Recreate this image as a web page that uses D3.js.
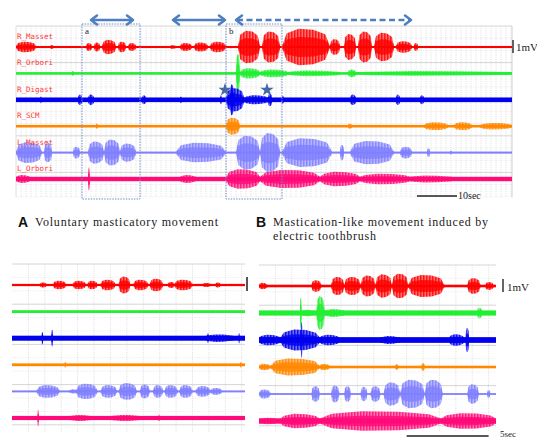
<!DOCTYPE html>
<html>
<head>
<meta charset="utf-8">
<script src="https://cdn.jsdelivr.net/npm/d3@7"></script>
<style>
  body { margin: 0; background: #fff; }
  svg { display: block; }
</style>
</head>
<body>
<svg id="chart" width="537" height="438"></svg>
<script>
// channels, top to bottom
const channels = ["R_Masset", "R_Orbori", "R_Digast", "R_SCM", "L_Masset", "L_Orbori"];
const colors = ["#ff0000", "#22ee33", "#0000ee", "#ff8800", "#8080ff", "#ff0a78"];

// noise floor (mV) of each trace
const topNoise = [0.08, 0.1, 0.18, 0.1, 0.08, 0.17];
const aNoise = [0.08, 0.1, 0.18, 0.1, 0.07, 0.15];
const bNoise = [0.1, 0.2, 0.22, 0.1, 0.07, 0.2];

// EMG bursts: [onset s, offset s, amplitude mV]
// upper record (about 124 s)
const topRMasset = [[0,5,0.4],[8.5,9.5,0.15],[17.5,19,0.3],[19.5,21,0.35],[21.5,25,0.55],[25.5,27.5,0.4],[28,30,0.3],
  [38.5,40,0.15],[41,44,0.3],[44.5,48,0.35],[48.5,52.5,0.4],[55.5,61,1.25],[61.5,66,1.2],[66.5,78.5,1.4],
  [78.5,81,0.6],[82,85,1.0],[85.5,89,1.2],[89.5,94.5,1.1],[95,99,0.45],[99.5,100.5,0.3]];
const topROrbori = [[14,14.5,0.2],[55,56,1.5],[56,61,0.4],[61,68,0.3],[68,81,0.22],[83,85,0.3],[85,124,0.18]];
const topRDigast = [[6,6.5,0.25],[15.5,16.5,0.4],[18,19.5,0.4],[31.5,32.5,0.35],[41,41.5,0.25],[51,51.5,0.35],
  [52.5,57,0.9],[53.5,54.5,1.2],[57,63,0.35],[63,64,0.5],[66.5,67,0.3],[83.5,85,0.4],[95,96,0.4],[101,102,0.35]];
const topRSCM = [[20,20.5,0.2],[52.5,56,0.65],[83,84,0.2],[102,108,0.3],[109.5,114,0.3],[116,124,0.25]];
const topLMasset = [[0,6.5,0.8],[7,9,0.75],[14.25,16,0.45],[18,22,0.85],[22,26,1.0],[26,30,0.7],[40,52.5,0.75],
  [55,61,1.3],[61,66,1.5],[66.5,79,1.1],[81,82,0.6],[83.5,94.5,0.9],[96,99,0.45],[102.75,103.5,0.35],[108.5,109,0.15]];
const topLOrbori = [[0,3.5,0.3],[18,18.5,0.9],[41,45,0.3],[52.5,61,0.75],[61,76,0.7],[76,86,0.55],[86,98.5,0.4],[98.5,109,0.27]];

// A: voluntary mastication (about 14 s)
const aRMasset = [[1.7,2.1,0.18],[2.5,3.3,0.3],[3.7,4.5,0.3],[4.6,5.2,0.3],[5.4,6.3,0.38],[6.5,7.2,0.6],
  [7.4,8.3,0.38],[8.4,9.2,0.45],[9.5,9.9,0.22],[9.9,11.0,0.38],[11.6,12.1,0.15],[12.4,12.7,0.18]];
const aROrbori = [];
const aRDigast = [[1.8,1.9,0.45],[2.4,2.5,0.6],[11.8,13.5,0.27],[11.9,12.0,0.35],[13.8,13.9,0.38]];
const aRSCM = [[3.2,3.3,0.22],[13.9,14.0,0.2]];
const aLMasset = [[1.5,2.9,0.45],[3.5,4.0,0.15],[3.9,5.2,0.55],[5.4,6.4,0.45],[6.5,7.6,0.6],[7.8,8.4,0.5],
  [8.6,9.2,0.45],[9.3,10.1,0.45],[10.2,11.0,0.45],[11.2,12.1,0.38],[12.1,12.8,0.25]];
const aLOrbori = [[1.55,1.65,0.6],[3.5,4.8,0.22],[6,7.8,0.22],[8.9,9.0,0.25]];

// B: toothbrush-induced (about 14.5 s)
const bRMasset = [[0,0.5,0.25],[3.2,3.8,0.45],[4.4,5.2,0.7],[5.2,6.2,0.7],[6.2,7.1,0.8],[7.1,8.1,0.9],
  [8.1,9.1,0.95],[9.1,11.3,0.85],[12.7,13.5,0.6],[13.8,14.3,0.3]];
const bROrbori = [[2.5,2.6,1.2],[2.6,3.4,0.25],[3.5,4.0,1.3],[4.0,5.2,0.3],[13.3,13.6,0.4]];
const bRDigast = [[0,1.3,0.4],[1.3,3.7,0.8],[2.55,2.65,1.4],[3.7,4.9,0.4],[7.4,8.6,0.3],[11.6,12.5,0.45],[12.6,12.8,0.95]];
const bRSCM = [[0,0.7,0.25],[0.7,3.7,0.65],[3.7,4.3,0.25],[8.3,8.5,0.22],[9.9,10.1,0.3]];
const bLMasset = [[0,0.7,0.35],[3.2,3.7,0.6],[4.4,4.9,0.65],[5.2,5.6,0.6],[6.2,6.6,0.55],[6.8,7.4,0.6],
  [7.6,8.6,0.9],[8.6,10.1,1.1],[10.1,11.2,1.1],[12.7,13.4,0.75],[13.9,14.1,0.3]];
const bLOrbori = [[0,1.3,0.25],[1.3,3.7,0.55],[3.7,11.1,0.75],[11.1,14.45,0.6]];

const topBursts = [topRMasset, topROrbori, topRDigast, topRSCM, topLMasset, topLOrbori];
const aBursts = [aRMasset, aROrbori, aRDigast, aRSCM, aLMasset, aLOrbori];
const bBursts = [bRMasset, bROrbori, bRDigast, bRSCM, bLMasset, bLOrbori];

// marked events
const windowA = [16.5, 31];     // box "a"
const windowB = [52.5, 66.5];   // box "b"
const arrowsSolid = [[18.75, 29.25], [39.25, 52.25]];
const arrowDashed = [55, 98.75];
const stars = [52.25, 62.75];

const svg = d3.select("#chart");
const accent = "#4f7fbf";

// striped fill so the bursts read like raw EMG rather than solid blobs
const defs = svg.append("defs");
colors.forEach((c, i) => {
  const p = defs.append("pattern").attr("id", "emg" + i).attr("patternUnits", "userSpaceOnUse")
    .attr("width", 1.5).attr("height", 20);
  p.append("rect").attr("width", 1.5).attr("height", 20).attr("fill", c).attr("opacity", 0.45);
  p.append("rect").attr("width", 0.8).attr("height", 20).attr("fill", c);
});

function drawPanel(o) {
  const g = svg.append("g");
  const x = d3.scaleLinear().domain(o.tDomain).range(o.xRange);
  const y = d3.scalePoint().domain(channels).range(o.yRange);
  const amp = d3.scaleLinear().domain([0, 1]).range([0, o.pxPerMv]);

  // grid
  const grid = g.append("g");
  d3.range(o.tDomain[0] + o.vStep, o.tDomain[1], o.vStep).forEach(t => {
    grid.append("line").attr("x1", x(t)).attr("x2", x(t))
      .attr("y1", o.gridTop).attr("y2", o.gridBottom)
      .attr("stroke", "#c8c8c8").attr("stroke-width", 0.6).attr("stroke-dasharray", "1,1.2");
  });
  d3.range(o.gridTop, o.gridBottom + 0.1, o.hStep).forEach((yy, i) => {
    grid.append("line").attr("x1", o.xRange[0]).attr("x2", o.xRange[1])
      .attr("y1", yy).attr("y2", yy)
      .attr("stroke", i % 3 === 0 ? "#d6d6d6" : "#dcdcdc")
      .attr("stroke-width", i % 3 === 0 ? 1 : 0.6)
      .attr("stroke-dasharray", i % 3 === 0 ? null : "1,1.2");
  });
  if (o.frame) {
    grid.append("line").attr("x1", o.xRange[1]).attr("x2", o.xRange[1])
      .attr("y1", o.gridTop).attr("y2", o.gridBottom).attr("stroke", "#d0d0d0");
    grid.append("line").attr("x1", o.xRange[0]).attr("x2", o.xRange[0])
      .attr("y1", o.gridTop).attr("y2", o.gridBottom).attr("stroke", "#e0e0e0");
  }

  channels.forEach((ch, i) => {
    const base = y(ch);
    const col = colors[i];
    const tr = g.append("g");
    // bursts: flat-topped spindles
    const area = d3.area()
      .x(d => x(d[0]))
      .y0(d => base + amp(d[1]))
      .y1(d => base - amp(d[1]));
    o.bursts[i].forEach(b => {
      const [t0, t1, a] = b;
      const d = t1 - t0;
      const pts = [[t0, o.noise[i]], [t0 + 0.1 * d, a * 0.75], [t0 + 0.35 * d, a], [t1 - 0.35 * d, a * 0.95],
        [t1 - 0.1 * d, a * 0.7], [t1, o.noise[i]]];
      tr.append("path").attr("d", area(pts)).attr("fill", `url(#emg${i})`);
      // denser core
      tr.append("path").attr("d", area(pts.map(p => [p[0], p[1] * 0.55]))).attr("fill", col).attr("opacity", 0.8);
    });
    // resting trace
    tr.append("rect").attr("x", o.xRange[0]).attr("width", o.xRange[1] - o.xRange[0])
      .attr("y", base - amp(o.noise[i])).attr("height", Math.max(1.2, 2 * amp(o.noise[i])))
      .attr("fill", col);
    if (o.labels) {
      g.append("text").attr("x", o.xRange[0] + 1).attr("y", base - 8)
        .attr("font-family", "DejaVu Sans Mono, monospace").attr("font-size", 7.5)
        .attr("fill", "#ff3a3a").text(ch);
    }
  });
  return { x, y, amp };
}

// upper record
const upper = drawPanel({
  tDomain: [0, 124], xRange: [16, 512], yRange: [47, 179], pxPerMv: 13,
  gridTop: 26, gridBottom: 197, vStep: 1.25, hStep: 12.2,
  noise: topNoise, bursts: topBursts, labels: true, frame: true
});

// boxes a / b
[[windowA, "a"], [windowB, "b"]].forEach(([w, lbl]) => {
  svg.append("rect").attr("x", upper.x(w[0])).attr("y", 24)
    .attr("width", upper.x(w[1]) - upper.x(w[0])).attr("height", 175)
    .attr("fill", "none").attr("stroke", "#6f8fca").attr("stroke-width", 1)
    .attr("stroke-dasharray", "1.5,1.2");
  svg.append("text").attr("x", upper.x(w[0]) + 3).attr("y", 34)
    .attr("font-family", "Liberation Serif, serif").attr("font-size", 9).attr("fill", "#222").text(lbl);
});

// arrows above the record
function arrow(t0, t1, dashed) {
  const x0 = upper.x(t0), x1 = upper.x(t1), yy = 20;
  const a = svg.append("g").attr("stroke", accent).attr("fill", "none")
    .attr("stroke-width", 2.6).attr("stroke-linecap", "round").attr("stroke-linejoin", "round");
  a.append("line").attr("x1", x0 + 1).attr("x2", x1 - 1).attr("y1", yy).attr("y2", yy)
    .attr("stroke-dasharray", dashed ? "6,3.5" : null).attr("stroke-linecap", dashed ? "butt" : "round");
  a.append("path").attr("d", `M${x0 + 6},${yy - 4.5} L${x0},${yy} L${x0 + 6},${yy + 4.5}`);
  a.append("path").attr("d", `M${x1 - 6},${yy - 4.5} L${x1},${yy} L${x1 - 6},${yy + 4.5}`);
}
arrowsSolid.forEach(d => arrow(d[0], d[1], false));
arrow(arrowDashed[0], arrowDashed[1], true);

// stars over R_Digast
stars.forEach(t => {
  svg.append("path").attr("d", d3.symbol(d3.symbolStar, 55)())
    .attr("transform", `translate(${upper.x(t)},${upper.y("R_Digast") - 10})`)
    .attr("fill", "#4468a8");
});

// scale bars, upper record
svg.append("line").attr("x1", 513).attr("x2", 513)
  .attr("y1", upper.y("R_Masset") - 7).attr("y2", upper.y("R_Masset") - 7 + upper.amp(1))
  .attr("stroke", "#333").attr("stroke-width", 1.5);
svg.append("text").attr("x", 516).attr("y", 51).attr("font-family", "Liberation Serif, serif")
  .attr("font-size", 11).attr("fill", "#222").text("1mV");
svg.append("line").attr("x1", upper.x(100.25)).attr("x2", upper.x(110.25)).attr("y1", 196).attr("y2", 196)
  .attr("stroke", "#222").attr("stroke-width", 1.5);
svg.append("text").attr("x", upper.x(110.25) + 1).attr("y", 199).attr("font-family", "Liberation Serif, serif")
  .attr("font-size", 10).attr("fill", "#222").text("10sec");

// panel captions
function caption(xx, letter, lines, widths) {
  svg.append("text").attr("x", xx).attr("y", 227).attr("font-family", "Liberation Sans, Arial, sans-serif")
    .attr("font-weight", "bold").attr("font-size", 14).attr("fill", "#111").text(letter);
  lines.forEach((s, i) => {
    svg.append("text").attr("x", xx + 17).attr("y", 226 + i * 14).attr("font-family", "Liberation Serif, serif")
      .attr("font-size", 12).attr("fill", "#222")
      .attr("textLength", widths[i]).attr("lengthAdjust", "spacing").text(s);
  });
}
caption(18, "A", ["Voluntary masticatory movement"], [183]);
caption(256, "B", ["Mastication-like movement induced by", "electric toothbrush"], [215, 103]);

// lower records
const pa = drawPanel({
  tDomain: [0, 14.2], xRange: [12, 245], yRange: [285, 418], pxPerMv: 14,
  gridTop: 264, gridBottom: 432, vStep: 1, hStep: 13.4,
  noise: aNoise, bursts: aBursts, labels: false, frame: false
});
svg.append("line").attr("x1", 247).attr("x2", 247).attr("y1", 277).attr("y2", 277 + pa.amp(1))
  .attr("stroke", "#555").attr("stroke-width", 2);

const pb = drawPanel({
  tDomain: [0, 14.45], xRange: [259, 496], yRange: [286, 421], pxPerMv: 13,
  gridTop: 265, gridBottom: 432, vStep: 1, hStep: 13.4,
  noise: bNoise, bursts: bBursts, labels: false, frame: false
});
svg.append("line").attr("x1", 503).attr("x2", 503).attr("y1", 279).attr("y2", 279 + pb.amp(1))
  .attr("stroke", "#333").attr("stroke-width", 1.5);
svg.append("text").attr("x", 507).attr("y", 291).attr("font-family", "Liberation Serif, serif")
  .attr("font-size", 11).attr("fill", "#222").text("1mV");
svg.append("line").attr("x1", pb.x(9.0)).attr("x2", pb.x(14.0)).attr("y1", 436).attr("y2", 436)
  .attr("stroke", "#222").attr("stroke-width", 1.5);
svg.append("text").attr("x", 500).attr("y", 437).attr("font-family", "Liberation Serif, serif")
  .attr("font-size", 9).attr("fill", "#222").text("5sec");
</script>
</body>
</html>
